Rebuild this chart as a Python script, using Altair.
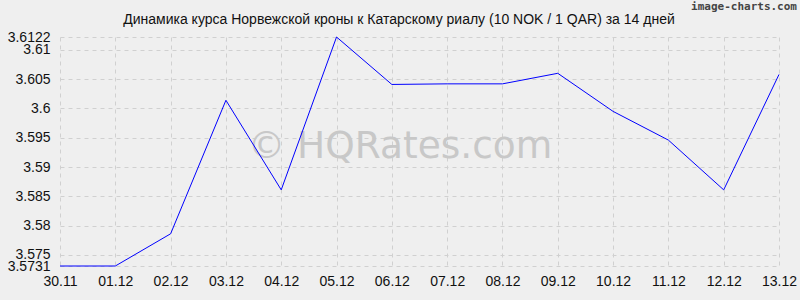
import altair as alt
import pandas as pd

dates = ["30.11", "01.12", "02.12", "03.12", "04.12", "05.12", "06.12",
         "07.12", "08.12", "09.12", "10.12", "11.12", "12.12", "13.12"]
rates = [3.5731, 3.5731, 3.5786, 3.6014, 3.5861, 3.6122, 3.6041,
         3.6042, 3.6042, 3.6060, 3.5995, 3.5946, 3.5861, 3.6058]
y_ticks = [3.5731, 3.575, 3.58, 3.585, 3.59, 3.595, 3.6, 3.605, 3.61, 3.6122]
title_text = "Динамика курса Норвежской кроны к Катарскому риалу (10 NOK / 1 QAR) за 14 дней"
watermark = "© HQRates.com"
credit = "image-charts.com"

df = pd.DataFrame({"date": dates, "rate": rates})

line = alt.Chart(df).mark_line(color="#0000ff", strokeWidth=1).encode(
    x=alt.X("date:N", sort=dates,
            scale=alt.Scale(type="point", padding=0),
            axis=alt.Axis(title=None, labelAngle=0, grid=True, domain=False,
                          ticks=False, labelPadding=8, labelFontSize=14,
                          labelFont="Liberation Sans", labelColor="#111",
                          gridColor="#d0d0d0", gridDash=[4, 4])),
    y=alt.Y("rate:Q",
            scale=alt.Scale(domain=[3.5731, 3.6122], nice=False, zero=False),
            axis=alt.Axis(title=None, values=y_ticks, labelExpr="datum.value + ''",
                          grid=True, domain=False, ticks=False, labelPadding=10,
                          labelOverlap=False, labelFontSize=14,
                          labelFont="Liberation Sans", labelColor="#111",
                          gridColor="#d0d0d0", gridDash=[4, 4])),
)

wm = alt.Chart(pd.DataFrame({"t": [watermark]})).mark_text(
    font="DejaVu Sans", fontSize=37.5, color="#c8c8c8", align="center", baseline="middle"
).encode(x=alt.value(340), y=alt.value(110), text="t:N")

ttl = alt.Chart(pd.DataFrame({"t": [title_text]})).mark_text(
    font="Liberation Sans", fontSize=14, color="#111", align="center", baseline="middle"
).encode(x=alt.value(339), y=alt.value(-17), text="t:N")

cr = alt.Chart(pd.DataFrame({"t": [credit]})).mark_text(
    font="DejaVu Sans Mono", fontSize=11, fontWeight="bold", color="#444",
    align="right", baseline="middle"
).encode(x=alt.value(737), y=alt.value(-30), text="t:N")

chart = alt.layer(wm, line, ttl, cr).properties(
    width=719, height=229,
    autosize=alt.AutoSizeParams(type="none"),
    padding={"left": 60, "top": 37, "right": 21, "bottom": 34},
    background="#efefef",
).configure_view(stroke=None)

chart.save("out.html", embed_options={"renderer": "svg", "actions": False})
